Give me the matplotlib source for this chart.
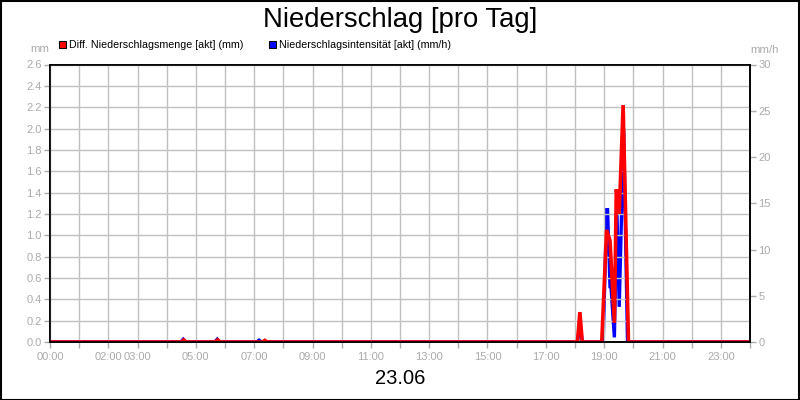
import matplotlib
matplotlib.use("Agg")
import matplotlib.pyplot as plt
from matplotlib.patches import Rectangle
import numpy as np

# ---- data ----
red_times = ["00:00", "04:30", "04:35", "04:40", "05:40", "05:45", "05:50",
             "07:17", "07:22", "07:27", "18:05", "18:10", "18:15", "18:55",
             "19:05", "19:12", "19:21", "19:25", "19:31", "19:39", "19:50", "24:00"]
red_vals = [0, 0, 0.02, 0, 0, 0.02, 0, 0, 0.015, 0, 0, 0.28, 0, 0,
            1.05, 0.95, 0.18, 1.43, 1.20, 2.22, 0, 0]

blue_times = ["00:00", "04:29", "04:34", "04:39", "05:39", "05:44", "05:49",
              "07:05", "07:10", "07:15", "18:05", "18:10", "18:15", "18:58",
              "19:05", "19:07", "19:12", "19:14", "19:21", "19:26", "19:31",
              "19:40", "19:48", "24:00"]
blue_vals = [0, 0, 0.3, 0, 0, 0.3, 0, 0, 0.2, 0, 0, 2.0, 0, 0,
             14.3, 14.3, 6.0, 6.0, 0.5, 14.5, 3.8, 23.0, 0, 0]

hour_ticks = list(range(0, 25))
hour_labels = ["00:00", "", "02:00", "03:00", "", "05:00", "", "07:00", "",
               "09:00", "", "11:00", "", "13:00", "", "15:00", "", "17:00", "",
               "19:00", "", "21:00", "", "23:00", ""]
left_ticks = [round(0.2 * i, 1) for i in range(14)]
right_ticks = [0, 5, 10, 15, 20, 25, 30]

title = "Niederschlag [pro Tag]"
date_label = "23.06"
red_label = "Diff. Niederschlagsmenge [akt] (mm)"
blue_label = "Niederschlagsintensität [akt] (mm/h)"


def to_h(t):
    h, m = t.split(":")
    return int(h) + int(m) / 60.0


plt.rcParams['font.family'] = ['Liberation Sans', 'DejaVu Sans']
gray = "#ababab"
gridc = "#c0c0c0"

fig = plt.figure(figsize=(8, 4), dpi=100)
fig.patch.set_facecolor("white")
W, H = 800, 400
ax = fig.add_axes([50 / W, 1 - 342 / H, 700 / W, (342 - 64.5) / H])
ax2 = ax.twinx()
ax.set_zorder(ax2.get_zorder() + 1)
ax.patch.set_visible(False)

ax2.plot([to_h(t) for t in blue_times], blue_vals, color="#0000ff", lw=2.4,
         solid_joinstyle="miter")
ax.plot([to_h(t) for t in red_times], red_vals, color="#ff0000", lw=2.6,
        solid_joinstyle="miter")

ax.set_xlim(0, 24)
ax.set_ylim(0, 2.6)
ax2.set_ylim(0, 30)

ax.set_xticks(hour_ticks)
ax.set_xticklabels(hour_labels)
ax.set_yticks(left_ticks)
ax.set_yticklabels([f"{v:.1f}" for v in left_ticks])
ax2.set_yticks(right_ticks)
ax2.set_yticklabels([str(v) for v in right_ticks])

ax.grid(True, color=gridc, lw=1.0)
for a in (ax, ax2):
    for s in a.spines.values():
        s.set_color("black")
        s.set_linewidth(1.2)
ax.tick_params(axis='both', colors=gray, labelcolor=gray, labelsize=8,
               length=4, width=1, pad=2)
ax.tick_params(axis='x', pad=3)
ax2.tick_params(axis='y', colors=gray, labelcolor=gray, labelsize=8,
                length=4, width=1, pad=2)

# texts
fig.text(400 / W, 1 - 27 / H, title, ha="center", va="baseline", fontsize=19.8)
fig.text(400 / W, 1 - 384 / H, date_label, ha="center", va="baseline", fontsize=14.5)
fig.text(39.5 / W, 1 - 52.3 / H, "mm", ha="center", va="baseline", fontsize=8.2, color=gray)
fig.text(764.7 / W, 1 - 52.7 / H, "mm/h", ha="center", va="baseline", fontsize=8.2, color=gray)

# legend keys
for x0, col, lab, tx in [(58.5, "#ff0000", red_label, 69.3),
                         (268.5, "#0000ff", blue_label, 279.3)]:
    fig.patches.append(Rectangle((x0 / W, 1 - 47.7 / H), 7 / W, 7 / H,
                                 transform=fig.transFigure, facecolor=col,
                                 edgecolor="black", lw=0.8))
    fig.text(tx / W, 1 - 48 / H, lab, ha="left", va="baseline", fontsize=7.7,
             color="black")

# figure border
fig.patches.append(Rectangle((0.5 / W, 0.5 / H), 798.5 / W, 398.5 / H,
                             transform=fig.transFigure, fill=False,
                             edgecolor="black", lw=1.5))

fig.savefig("out.png", dpi=100)
